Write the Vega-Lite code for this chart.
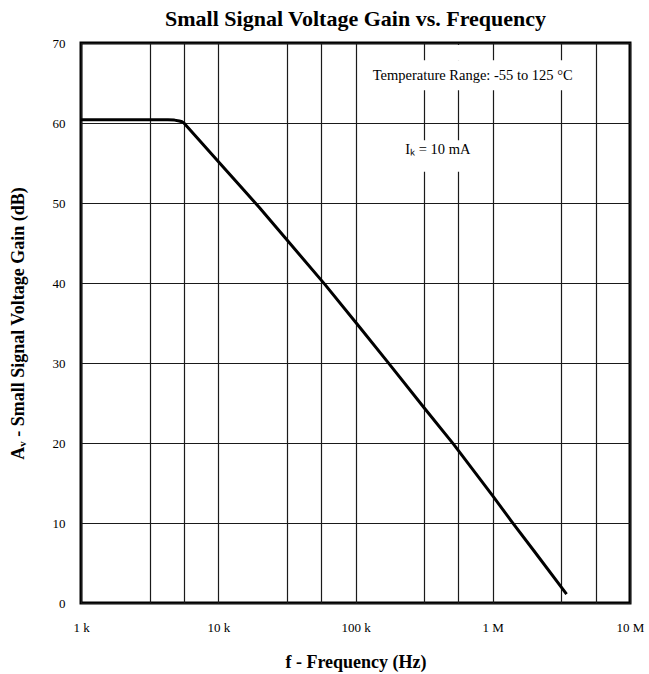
{
  "$schema": "https://vega.github.io/schema/vega-lite/v6.json",
  "width": 549,
  "height": 560,
  "autosize": {"type": "none"},
  "padding": {"left": 81, "top": 43, "right": 19, "bottom": 71},
  "background": "white",
  "title": {
    "text": "Small Signal Voltage Gain vs. Frequency",
    "font": "Liberation Serif",
    "fontSize": 22,
    "fontWeight": "bold",
    "color": "black",
    "anchor": "middle",
    "offset": 6
  },
  "config": {
    "view": {"stroke": "black", "strokeWidth": 3},
    "axis": {
      "grid": true,
      "gridColor": "#1a1a1a",
      "gridWidth": 1.2,
      "gridOpacity": 1,
      "ticks": false,
      "tickSize": 0,
      "domain": false,
      "labelFont": "Liberation Serif",
      "labelFontSize": 13,
      "labelColor": "black",
      "labelFlush": false,
      "labelOverlap": false,
      "titleFont": "Liberation Serif",
      "titleFontSize": 18,
      "titleFontWeight": "bold",
      "titleColor": "black"
    }
  },
  "datasets": {
    "gain": [
      {"frequency": 1000, "gain": 60.4},
      {"frequency": 4300, "gain": 60.4},
      {"frequency": 4800, "gain": 60.36},
      {"frequency": 5200, "gain": 60.25},
      {"frequency": 5450, "gain": 60.15},
      {"frequency": 5620, "gain": 60.0},
      {"frequency": 7500, "gain": 57.6},
      {"frequency": 10000, "gain": 55.2},
      {"frequency": 15000, "gain": 51.8},
      {"frequency": 20000, "gain": 49.4},
      {"frequency": 31600, "gain": 45.4},
      {"frequency": 60000, "gain": 39.8},
      {"frequency": 108000, "gain": 34.4},
      {"frequency": 173000, "gain": 30.05},
      {"frequency": 316000, "gain": 24.4},
      {"frequency": 521000, "gain": 19.8},
      {"frequency": 1000000, "gain": 13.4},
      {"frequency": 1370000, "gain": 10.2},
      {"frequency": 2000000, "gain": 6.5},
      {"frequency": 3450000, "gain": 1.1}
    ],
    "boxes": [
      {"frequency": 123000, "frequency2": 4300000, "gain": 64.1, "gain2": 67.85},
      {"frequency": 540000, "frequency2": 585000, "gain": 67.8, "gain2": 69.75},
      {"frequency": 211000, "frequency2": 779000, "gain": 53.9, "gain2": 57.85}
    ],
    "notes": [
      {"frequency": 714000, "gain": 65.9, "label": "Temperature Range: -55 to 125 °C"},
      {"frequency": 398000, "gain": 56.6, "label": "Iₖ = 10 mA"}
    ]
  },
  "encoding": {
    "x": {
      "field": "frequency",
      "type": "quantitative",
      "scale": {"type": "log", "domain": [1000, 10000000], "nice": false},
      "axis": {
        "title": "f - Frequency (Hz)",
        "values": [1000, 3162.28, 5623.41, 10000, 31622.8, 56234.1, 100000, 316228, 562341, 1000000, 3162280, 5623410, 10000000],
        "labelExpr": "datum.value == 1000 ? '1 k' : datum.value == 10000 ? '10 k' : datum.value == 100000 ? '100 k' : datum.value == 1000000 ? '1 M' : datum.value == 10000000 ? '10 M' : ''",
        "labelPadding": 18,
        "titleY": 59,
        "titleBaseline": "middle"
      }
    },
    "y": {
      "field": "gain",
      "type": "quantitative",
      "scale": {"domain": [0, 70], "nice": false},
      "axis": {
        "title": "Aᵥ - Small Signal Voltage Gain (dB)",
        "values": [0, 10, 20, 30, 40, 50, 60, 70],
        "labelPadding": 16,
        "titleX": -63,
        "titleY": 280,
        "titleAngle": -90,
        "titleAlign": "center",
        "titleBaseline": "middle"
      }
    }
  },
  "layer": [
    {
      "data": {"name": "boxes"},
      "mark": {"type": "rect", "fill": "white", "stroke": null},
      "encoding": {
        "x2": {"field": "frequency2"},
        "y2": {"field": "gain2"}
      }
    },
    {
      "data": {"name": "gain"},
      "mark": {"type": "line", "color": "black", "strokeWidth": 3, "strokeJoin": "round"},
      "encoding": {}
    },
    {
      "data": {"name": "notes"},
      "mark": {"type": "text", "font": "Liberation Serif", "fontSize": 14.5, "color": "black", "align": "center", "baseline": "middle"},
      "encoding": {"text": {"field": "label"}}
    }
  ]
}
